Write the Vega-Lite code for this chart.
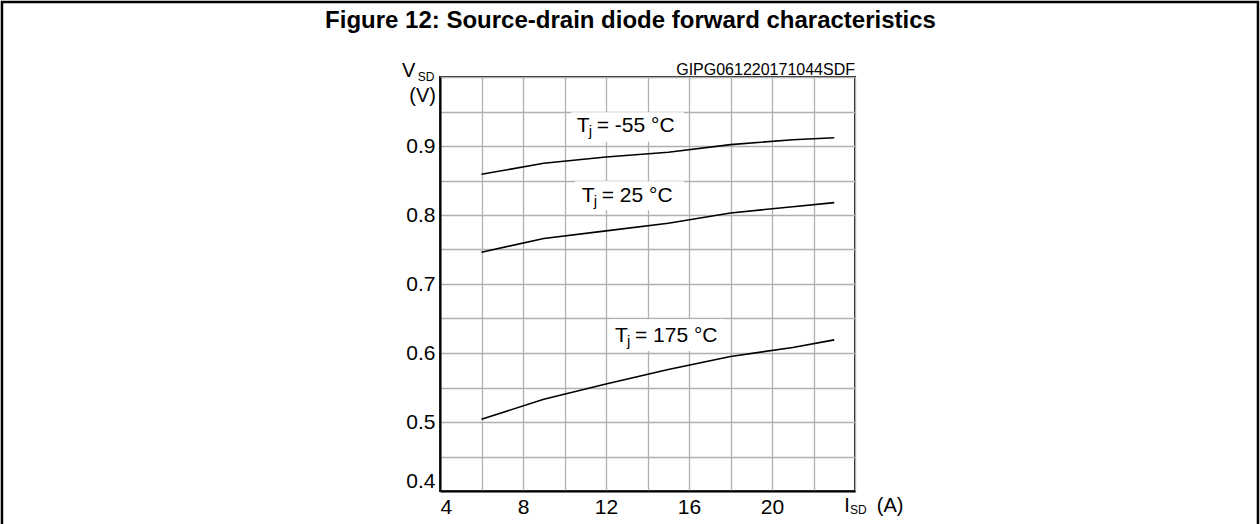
{
  "$schema": "https://vega.github.io/schema/vega-lite/v6.json",
  "width": 415,
  "height": 414,
  "autosize": {"type": "none"},
  "padding": {"left": 440, "top": 77, "right": 405, "bottom": 33},
  "background": "white",
  "config": {
    "view": {"stroke": "#222222", "strokeWidth": 2},
    "font": "Liberation Sans",
    "text": {"font": "Liberation Sans", "color": "black"}
  },
  "datasets": {
    "curves": [
      {"series": "-55 °C", "I": 6, "V": 0.859},
      {"series": "-55 °C", "I": 9, "V": 0.875},
      {"series": "-55 °C", "I": 12, "V": 0.884},
      {"series": "-55 °C", "I": 15, "V": 0.891},
      {"series": "-55 °C", "I": 18, "V": 0.902},
      {"series": "-55 °C", "I": 21, "V": 0.909},
      {"series": "-55 °C", "I": 23, "V": 0.912},
      {"series": "25 °C", "I": 6, "V": 0.746},
      {"series": "25 °C", "I": 9, "V": 0.766},
      {"series": "25 °C", "I": 12, "V": 0.777},
      {"series": "25 °C", "I": 15, "V": 0.788},
      {"series": "25 °C", "I": 18, "V": 0.803},
      {"series": "25 °C", "I": 21, "V": 0.812},
      {"series": "25 °C", "I": 23, "V": 0.818},
      {"series": "175 °C", "I": 6, "V": 0.504},
      {"series": "175 °C", "I": 9, "V": 0.533},
      {"series": "175 °C", "I": 12, "V": 0.555},
      {"series": "175 °C", "I": 15, "V": 0.576},
      {"series": "175 °C", "I": 18, "V": 0.595},
      {"series": "175 °C", "I": 21, "V": 0.608},
      {"series": "175 °C", "I": 23, "V": 0.619}
    ],
    "labels": [
      {"series": "-55 °C", "lx": 10.59, "ly": 0.9207, "rest": "= -55 °C", "bx1": 10.31, "bx2": 15.76, "by1": 0.906, "by2": 0.949},
      {"series": "25 °C", "lx": 10.83, "ly": 0.8193, "rest": "= 25 °C", "bx1": 10.51, "bx2": 15.76, "by1": 0.807, "by2": 0.849},
      {"series": "175 °C", "lx": 12.43, "ly": 0.6164, "rest": "= 175 °C", "bx1": 12.19, "bx2": 17.73, "by1": 0.603, "by2": 0.649}
    ]
  },
  "resolve": {"axis": {"x": "independent", "y": "independent"}},
  "layer": [
    {
      "data": {"values": [{"fx1": -17.11, "fx2": 43.42, "fy1": 0.3435, "fy2": 1.1087}]},
      "mark": {"type": "rect", "fill": null, "fillOpacity": 0, "stroke": "black", "strokeWidth": 2.5},
      "encoding": {
        "x": {"field": "fx1", "type": "quantitative", "scale": {"domain": [4, 24], "nice": false, "zero": false},
              "axis": {"orient": "bottom", "values": [4, 6, 8, 10, 12, 14, 16, 18, 20, 22, 24], "grid": true, "gridColor": "#b0b0b0", "gridWidth": 1.3, "labels": false, "ticks": false, "domain": false, "title": null}},
        "x2": {"field": "fx2"},
        "y": {"field": "fy1", "type": "quantitative", "scale": {"domain": [0.4, 1.0], "nice": false, "zero": false},
              "axis": {"orient": "left", "values": [0.4, 0.45, 0.5, 0.55, 0.6, 0.65, 0.7, 0.75, 0.8, 0.85, 0.9, 0.95, 1.0], "grid": true, "gridColor": "#b0b0b0", "gridWidth": 1.3, "labels": false, "ticks": false, "domain": false, "title": null}},
        "y2": {"field": "fy2"}
      }
    },
    {
      "data": {"name": "labels"},
      "mark": {"type": "rect", "fill": "white", "stroke": null},
      "encoding": {
        "x": {"field": "bx1", "type": "quantitative", "scale": {"domain": [4, 24], "nice": false, "zero": false}, "axis": null},
        "x2": {"field": "bx2"},
        "y": {"field": "by1", "type": "quantitative", "scale": {"domain": [0.4, 1.0], "nice": false, "zero": false}, "axis": null},
        "y2": {"field": "by2"}
      }
    },
    {
      "data": {"name": "curves"},
      "mark": {"type": "line", "color": "black", "strokeWidth": 1.6},
      "encoding": {
        "x": {"field": "I", "type": "quantitative", "scale": {"domain": [4, 24], "nice": false, "zero": false},
              "axis": {"orient": "bottom", "values": [4, 8, 12, 16, 20], "grid": false, "ticks": false, "domain": true, "domainColor": "black", "domainWidth": 2, "labelFont": "Liberation Sans", "labelFontSize": 21, "labelColor": "black", "labelPadding": 5, "title": null}},
        "y": {"field": "V", "type": "quantitative", "scale": {"domain": [0.4, 1.0], "nice": false, "zero": false},
              "axis": {"orient": "left", "values": [0.4, 0.5, 0.6, 0.7, 0.8, 0.9], "format": ".1f", "grid": false, "ticks": false, "domain": true, "domainColor": "black", "domainWidth": 2, "labelFont": "Liberation Sans", "labelFontSize": 21, "labelColor": "black", "labelPadding": 5, "labelFlush": true, "labelFlushOffset": 0, "title": null}},
        "detail": {"field": "series", "type": "nominal"}
      }
    },
    {
      "data": {"name": "labels"},
      "mark": {"type": "text", "text": "T", "align": "left", "baseline": "alphabetic", "fontSize": 21},
      "encoding": {
        "x": {"field": "lx", "type": "quantitative", "scale": {"domain": [4, 24], "nice": false, "zero": false}, "axis": null},
        "y": {"field": "ly", "type": "quantitative", "scale": {"domain": [0.4, 1.0], "nice": false, "zero": false}, "axis": null}
      }
    },
    {
      "data": {"name": "labels"},
      "mark": {"type": "text", "text": "j", "align": "left", "baseline": "alphabetic", "fontSize": 15, "dx": 12, "dy": 4},
      "encoding": {
        "x": {"field": "lx", "type": "quantitative", "scale": {"domain": [4, 24], "nice": false, "zero": false}, "axis": null},
        "y": {"field": "ly", "type": "quantitative", "scale": {"domain": [0.4, 1.0], "nice": false, "zero": false}, "axis": null}
      }
    },
    {
      "data": {"name": "labels"},
      "mark": {"type": "text", "align": "left", "baseline": "alphabetic", "fontSize": 21, "dx": 20},
      "encoding": {
        "x": {"field": "lx", "type": "quantitative", "scale": {"domain": [4, 24], "nice": false, "zero": false}, "axis": null},
        "y": {"field": "ly", "type": "quantitative", "scale": {"domain": [0.4, 1.0], "nice": false, "zero": false}, "axis": null},
        "text": {"field": "rest"}
      }
    },
    {
      "data": {"values": [
        {"tx": 13.18, "ty": 1.071, "label": "Figure 12: Source-drain diode forward characteristics"}
      ]},
      "mark": {"type": "text", "align": "center", "baseline": "alphabetic", "fontSize": 24, "fontWeight": "bold"},
      "encoding": {
        "x": {"field": "tx", "type": "quantitative", "scale": {"domain": [4, 24], "nice": false, "zero": false}, "axis": null},
        "y": {"field": "ty", "type": "quantitative", "scale": {"domain": [0.4, 1.0], "nice": false, "zero": false}, "axis": null},
        "text": {"field": "label"}
      }
    },
    {
      "data": {"values": [
        {"tx": 2.169, "ty": 1.0004, "label": "V", "al": "left"},
        {"tx": 3.807, "ty": 0.9638, "label": "(V)", "al": "right"},
        {"tx": 23.48, "ty": 0.370, "label": "I", "al": "left"},
        {"tx": 25.05, "ty": 0.370, "label": "(A)", "al": "left"}
      ]},
      "mark": {"type": "text", "baseline": "alphabetic", "fontSize": 20, "align": {"expr": "datum.al"}},
      "encoding": {
        "x": {"field": "tx", "type": "quantitative", "scale": {"domain": [4, 24], "nice": false, "zero": false}, "axis": null},
        "y": {"field": "ty", "type": "quantitative", "scale": {"domain": [0.4, 1.0], "nice": false, "zero": false}, "axis": null},
        "text": {"field": "label"}
      }
    },
    {
      "data": {"values": [
        {"tx": 2.925, "ty": 0.9946, "label": "SD"},
        {"tx": 23.76, "ty": 0.366, "label": "SD"}
      ]},
      "mark": {"type": "text", "baseline": "alphabetic", "fontSize": 12, "align": "left"},
      "encoding": {
        "x": {"field": "tx", "type": "quantitative", "scale": {"domain": [4, 24], "nice": false, "zero": false}, "axis": null},
        "y": {"field": "ty", "type": "quantitative", "scale": {"domain": [0.4, 1.0], "nice": false, "zero": false}, "axis": null},
        "text": {"field": "label"}
      }
    },
    {
      "data": {"values": [
        {"tx": 24.0, "ty": 1.0029, "label": "GIPG061220171044SDF"}
      ]},
      "mark": {"type": "text", "baseline": "alphabetic", "fontSize": 16, "align": "right"},
      "encoding": {
        "x": {"field": "tx", "type": "quantitative", "scale": {"domain": [4, 24], "nice": false, "zero": false}, "axis": null},
        "y": {"field": "ty", "type": "quantitative", "scale": {"domain": [0.4, 1.0], "nice": false, "zero": false}, "axis": null},
        "text": {"field": "label"}
      }
    }
  ]
}
